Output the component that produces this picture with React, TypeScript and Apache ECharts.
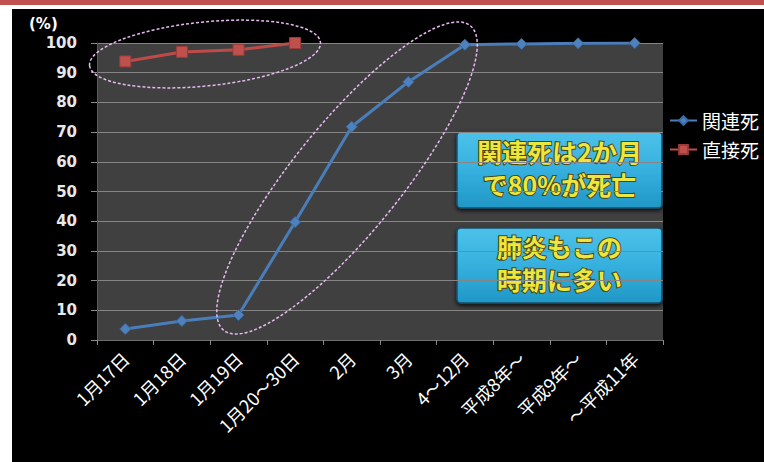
import React, { useEffect, useRef } from "react";
import * as echarts from "echarts";

const categories = [
  "1月17日",
  "1月18日",
  "1月19日",
  "1月20〜30日",
  "2月",
  "3月",
  "4〜12月",
  "平成8年〜",
  "平成9年〜",
  "〜平成11年",
];
const relatedDeath = [3.7, 6.4, 8.4, 39.7, 71.8, 86.9, 99.4, 99.7, 99.9, 100];
const directDeath = [93.8, 97.0, 97.7, 100, null, null, null, null, null, null];
const seriesNames = ["関連死", "直接死"];
const box1Lines = ["関連死は2か月", "で80%が死亡"];
const box2Lines = ["肺炎もこの", "時期に多い"];
const yTickStep = 10;

const JP = "'Noto Sans CJK JP', 'Noto Sans', sans-serif";

function noteBox(x: number, y: number, w: number, h: number, lines: string[]) {
  return {
    type: "group",
    x,
    y,
    z: 100,
    children: [
      {
        type: "rect",
        shape: { x: 0, y: 0, width: w, height: h, r: 4 },
        style: {
          fill: new echarts.graphic.LinearGradient(0, 0, 0, 1, [
            { offset: 0, color: "#4cc2ea" },
            { offset: 0.5, color: "#36b0de" },
            { offset: 1, color: "#2097c6" },
          ]),
          stroke: "#1b4f6a",
          lineWidth: 1.5,
          shadowBlur: 4,
          shadowColor: "rgba(0,0,0,0.8)",
          shadowOffsetY: 2,
        },
      },
      {
        type: "text",
        x: w / 2,
        y: h / 2 - 3,
        style: {
          text: lines.join("\n"),
          fill: "#ece63e",
          stroke: "#4d4410",
          lineWidth: 2,
          font: `bold 25px ${JP}`,
          lineHeight: 33,
          align: "center",
          verticalAlign: "middle",
        },
      },
    ],
  };
}

export default function App() {
  const ref = useRef<HTMLDivElement>(null);

  useEffect(() => {
    if (!ref.current) return;
    const chart = echarts.init(ref.current, undefined, { renderer: "svg" });
    chart.setOption({
      animation: false,
      backgroundColor: "#ffffff",
      textStyle: { fontFamily: JP },
      grid: {
        left: 97,
        top: 43,
        width: 566,
        height: 297,
        show: true,
        backgroundColor: "#404040",
        borderWidth: 0,
        containLabel: false,
      },
      legend: {
        data: seriesNames,
        orient: "vertical",
        left: 664,
        top: 106,
        itemWidth: 27,
        itemHeight: 11,
        itemGap: 10,
        textStyle: { color: "#ffffff", fontSize: 19, fontFamily: JP },
      },
      xAxis: {
        type: "category",
        data: categories,
        boundaryGap: true,
        axisLine: { show: true, lineStyle: { color: "#6e6e6e", width: 1 } },
        axisTick: {
          show: true,
          interval: 0,
          length: 5,
          lineStyle: { color: "#8a8a8a" },
        },
        axisLabel: {
          interval: 0,
          rotate: 45,
          margin: 15,
          color: "#ffffff",
          fontSize: 18,
          fontFamily: JP,
        },
        splitLine: { show: false },
      },
      yAxis: {
        type: "value",
        min: 0,
        max: 100,
        interval: yTickStep,
        axisLine: { show: true, lineStyle: { color: "#5a5a5a" } },
        axisTick: { show: true, length: 6, lineStyle: { color: "#8a8a8a" } },
        axisLabel: {
          margin: 20,
          color: "#e8e8e8",
          fontSize: 15,
          fontWeight: "bold",
          fontFamily: "'DejaVu Sans', sans-serif",
        },
        splitLine: { show: true, lineStyle: { color: "#858585", width: 1 } },
      },
      series: [
        {
          name: seriesNames[0],
          type: "line",
          data: relatedDeath,
          symbol: "diamond",
          symbolSize: 11,
          lineStyle: { color: "#4a7ebb", width: 3 },
          itemStyle: { color: "#4f81bd", borderColor: "#3a6aa3", borderWidth: 1 },
          z: 3,
        },
        {
          name: seriesNames[1],
          type: "line",
          data: directDeath,
          symbol: "rect",
          symbolSize: 11,
          lineStyle: { color: "#be4b48", width: 3 },
          itemStyle: { color: "#c0504d", borderColor: "#9c3c39", borderWidth: 1 },
          z: 3,
        },
      ],
      graphic: [
        {
          type: "rect",
          z: -100,
          silent: true,
          shape: { x: 0, y: 0, width: 764, height: 5 },
          style: { fill: "#c0504d" },
        },
        {
          type: "rect",
          z: -100,
          silent: true,
          shape: { x: 12, y: 9, width: 752, height: 453 },
          style: { fill: "#000000" },
        },
        {
          type: "text",
          x: 29,
          y: 16,
          style: {
            text: "(%)",
            fill: "#ffffff",
            font: "bold 15px 'DejaVu Sans', sans-serif",
          },
        },
        {
          type: "ellipse",
          x: 205,
          y: 54,
          rotation: 0.1,
          z: 50,
          shape: { cx: 0, cy: 0, rx: 116, ry: 32 },
          style: {
            fill: "none",
            stroke: "#e8b8f2",
            lineWidth: 1.5,
            lineDash: [3, 2],
          },
        },
        {
          type: "ellipse",
          x: 347,
          y: 178,
          rotation: 0.89,
          z: 50,
          shape: { cx: 0, cy: 0, rx: 196, ry: 54 },
          style: {
            fill: "none",
            stroke: "#e8b8f2",
            lineWidth: 1.5,
            lineDash: [3, 2],
          },
        },
        noteBox(457, 132, 205, 76, box1Lines),
        noteBox(457, 228, 205, 75, box2Lines),
      ],
    });
    return () => chart.dispose();
  }, []);

  return (
    <div
      ref={ref}
      style={{ position: "fixed", left: 0, top: 0, width: 764, height: 462 }}
    />
  );
}
